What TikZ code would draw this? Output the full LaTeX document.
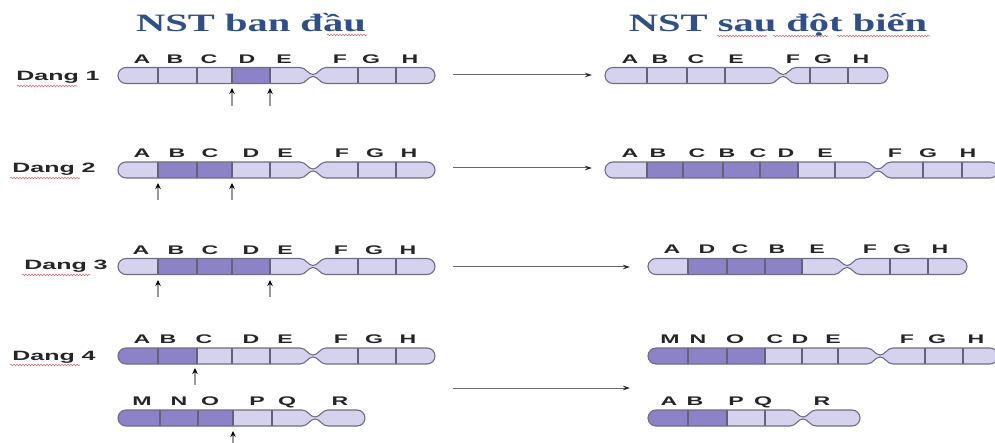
\documentclass[tikz,border=0pt]{standalone}
\usepackage{fontspec}
\usepackage{graphicx}
\setmainfont{Liberation Serif}
\newfontfamily\arialfont{Liberation Sans}
\usetikzlibrary{arrows.meta,decorations.pathmorphing}

\definecolor{chrlight}{HTML}{D5D2EE}
\definecolor{chrdark}{HTML}{8C82C8}
\definecolor{chredge}{HTML}{6F6D85}
\definecolor{titleblue}{HTML}{2F4F86}
\definecolor{spellred}{HTML}{D04040}

% outline of a chromosome: left end x0, right end x1, centromere xc, axis y
\newcommand\chrpath[4]{%
  ({#1+8},{#4-8}) -- ({#3-13},{#4-8})
  .. controls ({#3-7},{#4-8}) and ({#3-5},{#4-1}) .. ({#3},{#4-1})
  .. controls ({#3+5},{#4-1}) and ({#3+7},{#4-8}) .. ({#3+13},{#4-8})
  -- ({#2-8},{#4-8})
  .. controls ({#2-3.6},{#4-8}) and ({#2},{#4-4.4}) .. ({#2},{#4})
  .. controls ({#2},{#4+4.4}) and ({#2-3.6},{#4+8}) .. ({#2-8},{#4+8})
  -- ({#3+13},{#4+8})
  .. controls ({#3+7},{#4+8}) and ({#3+5},{#4+1}) .. ({#3},{#4+1})
  .. controls ({#3-5},{#4+1}) and ({#3-7},{#4+8}) .. ({#3-13},{#4+8})
  -- ({#1+8},{#4+8})
  .. controls ({#1+3.6},{#4+8}) and ({#1},{#4+4.4}) .. ({#1},{#4})
  .. controls ({#1},{#4-4.4}) and ({#1+3.6},{#4-8}) .. ({#1+8},{#4-8}) -- cycle}

% chromosome: x0, x1, centromere, y, dark band from, dark band to, band borders
\newcommand\chromo[7]{%
  \begin{scope}
    \clip \chrpath{#1}{#2}{#3}{#4};
    \fill[chrlight] ({#1-1},{#4-10}) rectangle ({#2+1},{#4+10});
    \fill[chrdark] ({#5},{#4-10}) rectangle ({#6},{#4+10});
    \foreach \dv in {#7} \draw[chrdiv] (\dv,{#4-10}) -- (\dv,{#4+10});
  \end{scope}
  \draw[chrline] \chrpath{#1}{#2}{#3}{#4};
}

% gene letters above a chromosome: row tag, baseline y, list x/letter
\newcommand\genes[3]{%
  \foreach \gx/\gt in {#3}
    \node[gene, name=g#1-\gx] at (\gx,#2) {\scalebox{1.85}[1]{\gt}};
}

\tikzset{
  chrline/.style={draw=chredge, line width=1.1pt},
  chrdiv/.style={draw=chredge!90!black, line width=1.2pt},
  gene/.style={font=\arialfont\bfseries\fontsize{12.5}{12.5}\selectfont,
    inner sep=0pt, anchor=base, text=black!85},
  dang/.style={font=\arialfont\bfseries\fontsize{13.5}{13.5}\selectfont,
    inner sep=0pt, anchor=base, text=black!85},
  heading/.style={font=\bfseries\fontsize{25}{25}\selectfont,
    inner sep=0pt, anchor=base, text=titleblue},
  spell/.style={draw=spellred!80, line width=0.55pt,
    decorate, decoration={snake, amplitude=0.8pt, segment length=3pt}},
  shift arrow/.style={draw=black!60, line width=1pt,
    -{Stealth[length=7pt, width=4.5pt, black!85]}},
  cut arrow/.style={draw=black!40, line width=1.6pt,
    -{Stealth[length=6pt, width=5.5pt, black]}}
}

\begin{document}
\begin{tikzpicture}[x=1pt, y=-1pt]
\useasboundingbox (0,0) rectangle (995,443);
\fill[white] (0,0) rectangle (995,443);

% headings
\node[heading] (h1) at (251,32) {\scalebox{1.62}[1]{NST ban đầu}};
\node[heading] (h2) at (778,32) {\scalebox{1.62}[1]{NST sau đột biến}};
\draw[spell] (327,35) -- (367,35);
\draw[spell] (717,36) -- (767,36);
\draw[spell] (773,36) -- (828,36);
\draw[spell] (837,36) -- (930,36);

% row labels
\node[dang] (d1) at (58,81) {\scalebox{1.85}[1]{Dang 1}};
\node[dang] (d2) at (54,173) {\scalebox{1.85}[1]{Dang 2}};
\node[dang] (d3) at (66,270) {\scalebox{1.85}[1]{Dang 3}};
\node[dang] (d4) at (54,360) {\scalebox{1.85}[1]{Dang 4}};
\draw[spell] (17,86) -- (77,86);
\draw[spell] (10,178) -- (80,178);
\draw[spell] (22,275) -- (90,275);
\draw[spell] (10,365) -- (80,365);

% ---- Dang 1: deletion of D
\chromo{118}{435}{313}{75.5}{232}{270}{158,197,232,270,358,396}
\genes{a}{64}{142/A,175/B,209/C,247/D,284/E,340/F,371/G,410/H}
\chromo{605}{888}{783}{75.5}{0}{0}{647,687,725,810,848}
\genes{b}{64}{630/A,660/B,696/C,736/E,793/F,823/G,861/H}
\coordinate (c1a) at (232,106); \coordinate (t1a) at (232,88);
\coordinate (c1b) at (270,106); \coordinate (t1b) at (270,88);
\draw[cut arrow] (c1a) -- (t1a);
\draw[cut arrow] (c1b) -- (t1b);
\coordinate (s1) at (453,75); \coordinate (e1) at (592,75);
\draw[shift arrow] (s1) -- (e1);

% ---- Dang 2: duplication of B C
\chromo{118}{435}{313}{170}{158}{232}{158,197,232,270,358,396}
\genes{c}{158}{142/A,177/B,210/C,251/D,285/E,342/F,375/G,409/H}
\chromo{605}{998}{878}{170}{647}{798}{647,683,723,760,798,835,923,962}
\genes{d}{158}{630/A,658/B,697/C,727/B,758/C,786/D,825/E,895/F,928/G,968/H}
\coordinate (c2a) at (158,200); \coordinate (t2a) at (158,183);
\coordinate (c2b) at (232,200); \coordinate (t2b) at (232,183);
\draw[cut arrow] (c2a) -- (t2a);
\draw[cut arrow] (c2b) -- (t2b);
\coordinate (s2) at (453,168); \coordinate (e2) at (592,168);
\draw[shift arrow] (s2) -- (e2);

% ---- Dang 3: inversion of B C D
\chromo{118}{435}{313}{266.5}{158}{270}{158,197,232,270,358,396}
\genes{e}{255}{141/A,176/B,210/C,251/D,285/E,341/F,374/G,408/H}
\chromo{648}{967}{847}{266.5}{688}{802}{688,727,765,802,890,928}
\genes{f}{254}{672/A,707/D,740/C,777/B,817/E,870/F,902/G,940/H}
\coordinate (c3a) at (158,297); \coordinate (t3a) at (158,280);
\coordinate (c3b) at (270,297); \coordinate (t3b) at (270,280);
\draw[cut arrow] (c3a) -- (t3a);
\draw[cut arrow] (c3b) -- (t3b);
\coordinate (s3) at (453,267); \coordinate (e3) at (630,267);
\draw[shift arrow] (s3) -- (e3);

% ---- Dang 4: reciprocal translocation
\chromo{118}{435}{313}{356}{110}{197}{158,197,232,270,358,396}
\genes{g}{343}{142/A,168/B,204/C,251/D,285/E,341/F,374/G,408/H}
\chromo{118}{365}{315}{418}{110}{233}{160,198,233,272}
\genes{h}{405}{142/M,179/N,210/O,257/P,287/Q,340/R}
\chromo{648}{998}{880}{356}{640}{765}{688,727,765,802,838,925,963}
\genes{i}{343}{670/M,698/N,735/O,775/C,800/D,833/E,907/F,937/G,976/H}
\chromo{648}{860}{803}{418}{640}{727}{688,727,765}
\genes{j}{405}{669/A,695/B,736/P,763/Q,822/R}
\coordinate (c4a) at (195,385); \coordinate (t4a) at (195,368);
\coordinate (c4b) at (233,448); \coordinate (t4b) at (233,431);
\draw[cut arrow] (c4a) -- (t4a);
\draw[cut arrow] (c4b) -- (t4b);
\coordinate (s4) at (453,388); \coordinate (e4) at (630,388);
\draw[shift arrow] (s4) -- (e4);
\end{tikzpicture}
\end{document}
